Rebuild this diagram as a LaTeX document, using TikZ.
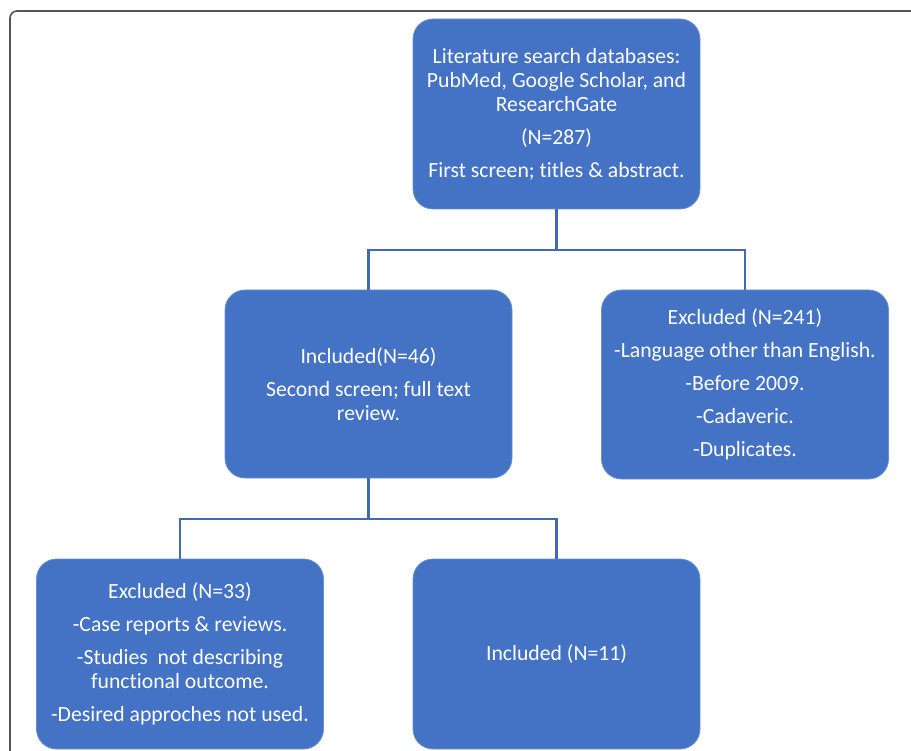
\documentclass[tikz,border=0pt]{standalone}
\usepackage{fontspec}
\setmainfont{Carlito}[Ligatures=NoCommon]
\definecolor{boxblue}{HTML}{4472C4}
\definecolor{edgeblue}{HTML}{6A8FD2}
\definecolor{lineblue}{HTML}{4169B8}
\definecolor{framegray}{HTML}{555555}
\begin{document}
\begin{tikzpicture}[x=1pt,y=-1pt,
  flowbox/.style={rectangle, rounded corners=20pt, fill=boxblue, draw=edgeblue, line width=0.8pt,
    text=white, align=center, inner sep=0pt, minimum width=287pt, minimum height=190pt,
    font=\fontsize{21.7}{24}\selectfont},
  link/.style={draw=lineblue, line width=2.5pt}]
\useasboundingbox (0,0) rectangle (911,751);
\draw[framegray, line width=1.6pt, rounded corners=7pt] (10,760) -- (10,11) -- (920,11);

\node[flowbox] (top) at (556.5,114) {Literature search databases:\\PubMed, Google Scholar, and\\ResearchGate\\[9pt](N=287)\\[9pt]First screen; titles \& abstract.};
\node[flowbox, minimum height=188pt] (mid) at (368.5,384) {Included(N=46)\\[9pt]Second screen; full text\\review.};
\node[flowbox, minimum height=189pt] (rex) at (745,384.5) {Excluded (N=241)\\[9pt]-Language other than English.\\[9pt]-Before 2009.\\[9pt]-Cadaveric.\\[9pt]-Duplicates.};
\node[flowbox] (bex) at (180,654) {Excluded (N=33)\\[9pt]-Case reports \& reviews.\\[9pt]-Studies\ \ not describing\\functional outcome.\\[9pt]-Desired approches not used.};
\node[flowbox] (inc) at (556.5,654) {Included (N=11)};

\coordinate (j1) at (556.5,250);
\coordinate (j2) at (368.5,519);
\draw[link] (top.south) -- (j1);
\draw[link] (mid.north) |- (j1) -| (rex.north);
\draw[link] (mid.south) -- (j2);
\draw[link] (bex.north) |- (j2) -| (inc.north);
\end{tikzpicture}
\end{document}
